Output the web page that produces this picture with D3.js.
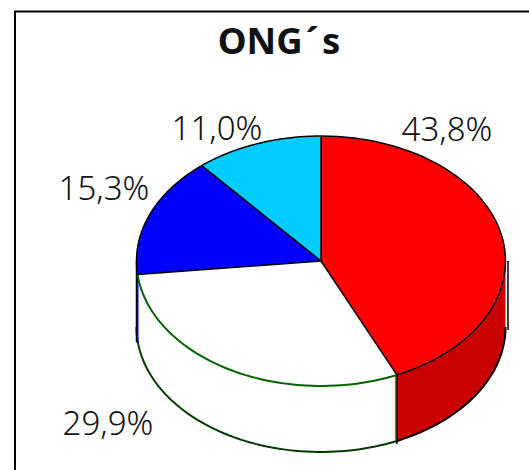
<!DOCTYPE html>
<html><head><meta charset="utf-8">
<script src="https://cdn.jsdelivr.net/npm/d3@7"></script>
<style>html,body{margin:0;padding:0;background:#fff;overflow:hidden}svg{display:block}text{font-family:"Noto Sans","Open Sans",sans-serif}</style>
</head><body><div id="c"></div>
<script>
const titleParts = ["ONG","´","s"];
const categories = ["A","B","C","D"];
const values = [43.8,29.9,15.3,11.0];
const labels = ["43,8%","29,9%","15,3%","11,0%"];
const topColors = ["#ff0000","#ffffff","#0000ff","#00ccff"];
const sideColors = ["#c80000","#ffffff","#0000ff","#00a0cc"];
const edgeColors = ["#000000","#006400","#000000","#000000"];

const W=529,H=470,cx=321,cy=261,rx=184.5,ry=125,depth=66;
const svg=d3.select("#c").append("svg").attr("width",W).attr("height",H);
svg.append("path").attr("d",`M15,${H}V11.5H${W}`)
  .attr("fill","none").attr("stroke","#000").attr("stroke-width",2);
const titleText=svg.append("text").attr("x",279).attr("y",54).attr("text-anchor","middle")
  .attr("font-size",36.5).attr("font-weight","bold").attr("fill","#111");
titleParts.forEach((t,i)=>titleText.append("tspan").attr("dx",i?3:0).text(t));

const arcs=d3.pie().sort(null).value(d=>d)(values);
// slight perspective warp of the tilted disc
const warp=a=>a-0.035*Math.sin(a/2);
const px=a=>cx+rx*Math.sin(a), py=(a,dz=0)=>cy-ry*Math.cos(a)+dz;
const angles=(a,b)=>d3.range(0,61).map(i=>a+(b-a)*i/60);
const curve=d3.line().x(d=>d[0]).y(d=>d[1]);

// side walls (front half only)
arcs.forEach((s,i)=>{
  const a=Math.max(warp(s.startAngle),Math.PI/2), b=Math.min(warp(s.endAngle),Math.PI*1.5);
  if(b<=a) return;
  const top=angles(a,b).map(t=>[px(t),py(t)]);
  const bot=angles(a,b).map(t=>[px(t),py(t,depth)]).reverse();
  svg.append("path").attr("d",curve(top.concat(bot))+"Z").attr("fill",sideColors[i]).attr("stroke","none");
  svg.append("path").attr("d",curve(bot)).attr("fill","none").attr("stroke",i===1?"#003c00":edgeColors[i]).attr("stroke-width",2);
});
// wall seams
const seam=warp(arcs[0].endAngle), bl=warp(arcs[1].endAngle);
svg.append("line").attr("x1",px(seam)-1.5).attr("x2",px(seam)-1.5).attr("y1",py(seam)).attr("y2",py(seam,depth)).attr("stroke","#d04040").attr("stroke-width",1);
svg.append("line").attr("x1",px(seam)).attr("x2",px(seam)).attr("y1",py(seam)).attr("y2",py(seam,depth)+3).attr("stroke","#000").attr("stroke-width",1.5);
svg.append("line").attr("x1",cx-rx+1).attr("x2",cx-rx+1).attr("y1",py(bl)).attr("y2",py(bl,depth)+2).attr("stroke","#0000ff").attr("stroke-width",2);
svg.append("line").attr("x1",cx-rx).attr("x2",cx-rx).attr("y1",cy).attr("y2",py(bl,depth)+2).attr("stroke","#000").attr("stroke-width",1.5);
svg.append("line").attr("x1",cx+rx+2.5).attr("x2",cx+rx+2.5).attr("y1",cy).attr("y2",cy+depth+3).attr("stroke","#000").attr("stroke-width",1.5);

// top faces
arcs.forEach((s,i)=>{
  const pts=angles(warp(s.startAngle),warp(s.endAngle)).map(t=>[px(t),py(t)]);
  svg.append("path").attr("d",curve([[cx,cy]].concat(pts))+"Z").attr("fill",topColors[i]).attr("stroke","none");
});
arcs.forEach((s,i)=>{
  const pts=angles(warp(s.startAngle),warp(s.endAngle)).map(t=>[px(t),py(t)]);
  svg.append("path").attr("d",curve(pts)).attr("stroke",edgeColors[i]).attr("stroke-width",i===1?2:1.5).attr("fill","none");
  svg.append("path").attr("d",curve([[cx,cy],pts[0]])).attr("stroke","#000").attr("stroke-width",1.5).attr("fill","none");
});

const labelPos=[[447,141],[108,435],[104,200],[217,140]];
labels.forEach((t,i)=>svg.append("text").attr("x",labelPos[i][0]).attr("y",labelPos[i][1]).attr("text-anchor","middle").attr("font-size",33).attr("font-weight",300).attr("fill","#111").text(t));
</script></body></html>
